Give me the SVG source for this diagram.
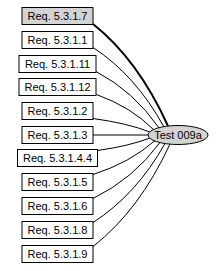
<svg xmlns="http://www.w3.org/2000/svg" width="223" height="271" viewBox="0 0 223 271">
<style>
.box{fill:#ffffff;stroke:#000000;stroke-width:1}
.sel{fill:#d3d3d3}
.lbl{font-family:"Liberation Sans",Arial,sans-serif;font-size:11px;fill:#000000;text-anchor:middle}
.e{fill:none;stroke:#000000;stroke-width:1}
.thick{stroke-width:2}
</style>
<rect width="223" height="271" fill="#ffffff"/>
<g id="edges">
<path class="e thick" d="M93,24 Q138,59.7 168,126"/>
<path class="e" d="M93,47.5 Q135.6,75.3 164,127"/>
<path class="e" d="M96,71.5 Q133.8,91.3 159,128"/>
<path class="e" d="M96.5,94.5 Q131,106.9 154,130"/>
<path class="e" d="M93,118.5 Q127.2,123.2 150,132"/>
<path class="e" d="M93,135 L148,135"/>
<path class="e" d="M97.5,150.5 Q129,146.1 150,138"/>
<path class="e" d="M93,174.5 Q130.2,162.6 155,140.5"/>
<path class="e" d="M93,198.5 Q133.2,178.9 160,142.5"/>
<path class="e" d="M93,222.5 Q136.2,194.8 165,143.5"/>
<path class="e" d="M93,246.5 Q139.2,210.6 170,144"/>
</g>
<g id="n0"><rect class="box sel" x="22" y="7.5" width="71" height="17"/><text class="lbl" x="57.5" y="20">Req. 5.3.1.7</text></g>
<g id="n1"><rect class="box" x="22" y="31.5" width="71" height="17"/><text class="lbl" x="57.5" y="44">Req. 5.3.1.1</text></g>
<g id="n2"><rect class="box" x="19" y="55.5" width="77" height="17"/><text class="lbl" x="57.5" y="68">Req. 5.3.1.11</text></g>
<g id="n3"><rect class="box" x="19" y="78.5" width="77" height="17"/><text class="lbl" x="57.5" y="91">Req. 5.3.1.12</text></g>
<g id="n4"><rect class="box" x="22" y="102.5" width="71" height="17"/><text class="lbl" x="57.5" y="115">Req. 5.3.1.2</text></g>
<g id="n5"><rect class="box" x="22" y="126.5" width="71" height="17"/><text class="lbl" x="57.5" y="139">Req. 5.3.1.3</text></g>
<g id="n6"><rect class="box" x="17.5" y="149.5" width="80" height="17"/><text class="lbl" x="57.5" y="162">Req. 5.3.1.4.4</text></g>
<g id="n7"><rect class="box" x="22" y="173.5" width="71" height="17"/><text class="lbl" x="57.5" y="186">Req. 5.3.1.5</text></g>
<g id="n8"><rect class="box" x="22" y="197.5" width="71" height="17"/><text class="lbl" x="57.5" y="210">Req. 5.3.1.6</text></g>
<g id="n9"><rect class="box" x="22" y="221.5" width="71" height="17"/><text class="lbl" x="57.5" y="234">Req. 5.3.1.8</text></g>
<g id="n10"><rect class="box" x="22" y="245.5" width="71" height="17"/><text class="lbl" x="57.5" y="258">Req. 5.3.1.9</text></g>
<g id="test"><ellipse class="box sel" cx="178" cy="135" rx="30" ry="9.5"/><text class="lbl" x="178" y="139">Test 009a</text></g>
</svg>
